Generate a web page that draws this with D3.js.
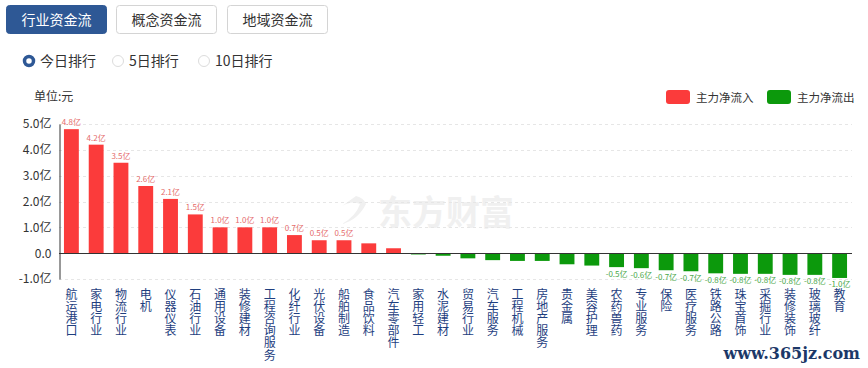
<!DOCTYPE html>
<html>
<head>
<meta charset="utf-8">
<script src="https://cdn.jsdelivr.net/npm/d3@7"></script>
<style>
  body { margin: 0; background: #fff; }
  svg { display: block; font-family: "Noto Sans CJK SC", "Noto Sans", sans-serif; }
</style>
</head>
<body>
<script>
// industry fund flow, unit: 亿元
const categories = ['航运港口', '家电行业', '物流行业', '电机', '仪器仪表', '石油行业', '通用设备', '装修建材',
  '工程咨询服务', '化纤行业', '光伏设备', '船舶制造', '食品饮料', '汽车零部件', '家用轻工', '水泥建材',
  '贸易行业', '汽车服务', '工程机械', '房地产服务', '贵金属', '美容护理', '农药兽药', '专业服务',
  '保险', '医疗服务', '铁路公路', '珠宝首饰', '采掘行业', '装修装饰', '玻璃玻纤', '教育']
const values = [4.8, 4.2, 3.5, 2.6, 2.1, 1.5, 1.0, 1.0, 1.0, 0.7, 0.5, 0.5, 0.38, 0.19, -0.05, -0.1,
  -0.2, -0.27, -0.3, -0.3, -0.43, -0.48, -0.54, -0.58, -0.66, -0.7, -0.78, -0.8, -0.8, -0.84, -0.84, -0.96]
const yTicks = [-1, 0, 1, 2, 3, 4, 5]
const tabs = ['行业资金流', '概念资金流', '地域资金流']
const ranks = ['今日排行', '5日排行', '10日排行']
const legendItems = ['主力净流入', '主力净流出']

const RED = '#fb3b3b', GREEN = '#0c990c'

const svg = d3.select('body').append('svg')
  .attr('width', 868)
  .attr('height', 368)

// tabs
const tabX = [6, 116, 227]
tabs.forEach(function (t, i) {
  svg.append('rect')
    .attr('x', tabX[i] + 0.5).attr('y', 5.5)
    .attr('width', 100).attr('height', 28)
    .attr('rx', 3)
    .attr('fill', i === 0 ? '#2e5895' : '#fff')
    .attr('stroke', i === 0 ? '#2e5895' : '#d4d4d4')
  svg.append('text')
    .attr('x', tabX[i] + 50.5).attr('y', 24.5)
    .attr('text-anchor', 'middle')
    .attr('font-size', 14)
    .attr('fill', i === 0 ? '#fff' : '#333')
    .text(t)
})

// radio buttons
const radioX = [29, 118, 204]
ranks.forEach(function (t, i) {
  svg.append('circle')
    .attr('cx', radioX[i]).attr('cy', 61)
    .attr('r', i === 0 ? 4.5 : 5.5)
    .attr('fill', '#fff')
    .attr('stroke', i === 0 ? '#2e5895' : '#dcdcdc')
    .attr('stroke-width', i === 0 ? 3.5 : 1)
  svg.append('text')
    .attr('x', radioX[i] + 11).attr('y', 66)
    .attr('font-size', 14)
    .attr('fill', '#333')
    .text(t)
})

// unit
svg.append('text')
  .attr('x', 34).attr('y', 101)
  .attr('font-size', 12)
  .attr('fill', '#333')
  .text('单位:元')

// legend
legendItems.forEach(function (t, i) {
  const lx = i === 0 ? 666 : 767
  svg.append('rect')
    .attr('x', lx).attr('y', 90)
    .attr('width', 24).attr('height', 14)
    .attr('rx', 3)
    .attr('fill', i === 0 ? RED : GREEN)
  svg.append('text')
    .attr('x', lx + 30).attr('y', 101.5)
    .attr('font-size', 11.5)
    .attr('fill', '#333')
    .text(t)
})

// watermark: logo swoosh + name
svg.append('path')
  .attr('d', 'M342,206 q10,-6 18,-2 q-4,12 -18,20 q16,-4 24,-20 q-2,-6 -10,-8 z')
  .attr('fill', '#f0f0f0')
svg.append('text')
  .attr('x', 378).attr('y', 225)
  .attr('font-size', 34)
  .attr('font-weight', 'bold')
  .attr('fill', '#f0f0f0')
  .text('东方财富')

// scales
const x = d3.scaleBand()
  .domain(categories)
  .range([59, 852])
  .paddingInner(0.4)
  .paddingOuter(0.2)

const y = d3.scaleLinear()
  .domain([-1, 5])
  .range([279, 124])

// grid
svg.append('g')
  .selectAll('line')
  .data(yTicks.filter(function (d) { return d !== 0 }))
  .enter().append('line')
  .attr('x1', 59).attr('x2', 852)
  .attr('y1', function (d) { return Math.round(y(d)) + 0.5 })
  .attr('y2', function (d) { return Math.round(y(d)) + 0.5 })
  .attr('stroke', '#e6e6e6')
  .attr('stroke-dasharray', '3,3')

// y axis
const yAxis = d3.axisLeft(y)
  .tickValues(yTicks)
  .tickSize(0)
  .tickPadding(8)
  .tickFormat(function (d) { return d === 0 ? '0.0' : d.toFixed(1) + '亿' })

const yg = svg.append('g')
  .attr('transform', 'translate(59.5,0)')
  .call(yAxis)
yg.select('.domain').attr('stroke', '#333')
yg.selectAll('text')
  .attr('font-size', 12)
  .attr('fill', '#333')
  .attr('font-family', '"Noto Sans CJK SC", sans-serif')

// bars
svg.append('g')
  .selectAll('rect')
  .data(values)
  .enter().append('rect')
  .attr('x', function (d, i) { return x(categories[i]) })
  .attr('width', x.bandwidth())
  .attr('y', function (d) { return d >= 0 ? y(d) : y(0) })
  .attr('height', function (d) { return Math.abs(y(d) - y(0)) })
  .attr('fill', function (d) { return d >= 0 ? RED : GREEN })

// zero line
svg.append('line')
  .attr('x1', 59).attr('x2', 852)
  .attr('y1', Math.round(y(0)) + 0.5).attr('y2', Math.round(y(0)) + 0.5)
  .attr('stroke', '#333')

// value labels (only the larger flows carry one)
const lab = svg.append('g')
values.forEach(function (d, i) {
  if (Math.abs(d) < 0.5) return
  lab.append('text')
    .attr('x', x(categories[i]) + x.bandwidth() / 2)
    .attr('y', d >= 0 ? y(d) - 4 : y(d) + 9.5)
    .attr('text-anchor', 'middle')
    .attr('font-size', 8)
    .attr('fill', d >= 0 ? '#e56b6b' : '#4aa84a')
    .text(d.toFixed(1) + '亿')
})

// x labels, written top to bottom
svg.append('g')
  .selectAll('text')
  .data(categories)
  .enter().append('text')
  .attr('x', function (d) { return x(d) + x.bandwidth() / 2 })
  .attr('y', 288)
  .attr('writing-mode', 'vertical-rl')
  .style('writing-mode', 'vertical-rl')
  .attr('font-size', 12)
  .attr('letter-spacing', 0.2)
  .attr('fill', '#1f3f7f')
  .text(function (d) { return d })

// site mark
svg.append('text')
  .attr('x', 860).attr('y', 359)
  .attr('text-anchor', 'end')
  .attr('font-size', 16)
  .attr('font-weight', 'bold')
  .attr('font-family', '"DejaVu Serif", serif')
  .attr('fill', '#1c3868')
  .text('www.365jz.com')
</script>
</body>
</html>
